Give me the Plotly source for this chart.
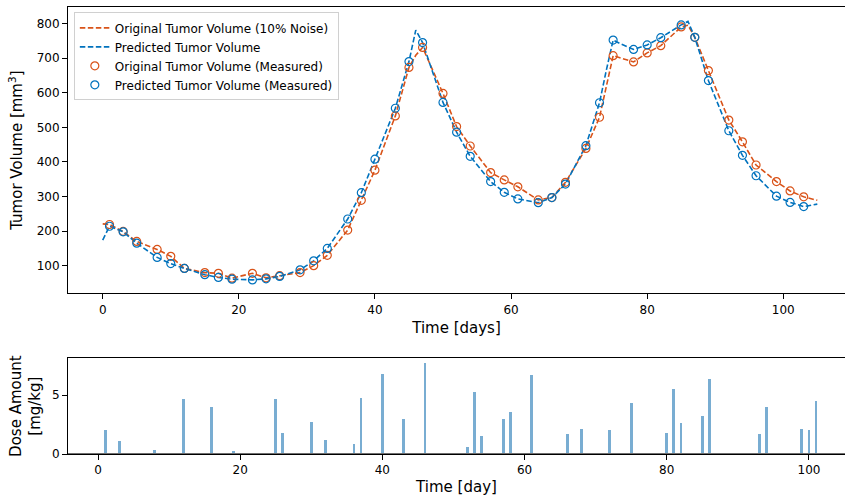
import plotly.graph_objects as go
from plotly.subplots import make_subplots

# ---------------- data ----------------
meas_days = [1, 3, 5, 8, 10, 12, 15, 17, 19, 22, 24, 26, 29, 31, 33, 36, 38, 40, 43, 45, 47,
             50, 52, 54, 57, 59, 61, 64, 66, 68, 71, 73, 75, 78, 80, 82, 85, 87, 89, 92, 94,
             96, 99, 101, 103]
orig_meas = [219, 199, 170, 147, 127, 92, 80, 78, 64, 78, 65, 71, 80, 100, 130, 203, 289, 376,
             533, 673, 731, 598, 502, 446, 369, 348, 328, 290, 297, 341, 439, 529, 707, 689, 715,
             736, 790, 760, 664, 521, 458, 391, 343, 316, 299]
pred_meas = [214, 198, 165, 124, 106, 92, 74, 66, 61, 59, 62, 69, 88, 114, 150, 235, 311, 408,
             555, 690, 745, 572, 486, 416, 343, 312, 293, 282, 297, 336, 447, 571, 752, 725, 738,
             759, 796, 760, 635, 490, 419, 360, 301, 283, 271]

orig_line_days = [0, 1, 3, 5, 8, 10, 12, 15, 17, 19, 22, 24, 26, 29, 31, 33, 36, 38, 40, 43, 45,
                  46, 47, 50, 52, 54, 57, 59, 61, 64, 66, 68, 71, 73, 75, 78, 80, 82, 85, 86, 87,
                  89, 92, 94, 96, 99, 101, 103, 105]
orig_line = [221, 219, 199, 170, 147, 127, 92, 80, 78, 64, 78, 65, 71, 80, 100, 130, 203, 289,
             376, 533, 673, 708, 731, 598, 502, 446, 369, 348, 328, 290, 297, 341, 439, 529, 707,
             689, 715, 736, 790, 795, 760, 664, 521, 458, 391, 343, 316, 299, 289]

pred_line_days = [0, 1, 3, 5, 8, 10, 12, 15, 17, 19, 22, 24, 26, 29, 31, 33, 36, 38, 40, 43, 45,
                  46, 47, 50, 52, 54, 57, 59, 61, 64, 66, 68, 71, 73, 74, 75, 76, 78, 80, 82, 85,
                  86, 87, 89, 92, 94, 96, 99, 101, 103, 105]
pred_line = [174, 214, 198, 165, 124, 106, 92, 74, 66, 61, 59, 62, 69, 88, 114, 150, 235, 311,
             408, 555, 690, 781, 745, 572, 486, 416, 343, 312, 293, 282, 297, 336, 447, 571, 665,
             752, 742, 725, 738, 759, 796, 806, 760, 635, 490, 419, 360, 301, 283, 271, 278]

dose_days = [1, 3, 8, 12, 16, 19, 25, 26, 30, 32, 36, 37, 40, 43, 46, 52, 53, 54, 57, 58, 61,
             66, 68, 72, 75, 80, 81, 82, 85, 86, 93, 94, 99, 100, 101]
dose_vals = [2.03, 1.10, 0.34, 4.66, 3.98, 0.25, 4.66, 1.78, 2.71, 1.19, 0.85, 4.75, 6.78, 2.97,
             7.71, 0.59, 5.25, 1.53, 2.97, 3.56, 6.69, 1.69, 2.12, 2.03, 4.32, 1.78, 5.51, 2.63,
             3.22, 6.36, 1.69, 3.98, 2.12, 2.03, 4.49]

x_ticks_top = [0, 20, 40, 60, 80, 100]
y_ticks_top = [100, 200, 300, 400, 500, 600, 700, 800]
y_ticks_bot = [0, 5]

ORANGE = "#D95319"
BLUE = "#0072BD"
FONT = "DejaVu Sans"

fig = make_subplots(rows=2, cols=1)

fig.add_trace(go.Scatter(x=orig_line_days, y=orig_line, mode="lines",
                         name="Original Tumor Volume (10% Noise)",
                         line=dict(color=ORANGE, width=1.6, dash="5.5px,2.5px")), row=1, col=1)
fig.add_trace(go.Scatter(x=pred_line_days, y=pred_line, mode="lines",
                         name="Predicted Tumor Volume",
                         line=dict(color=BLUE, width=1.6, dash="5.5px,2.5px")), row=1, col=1)
fig.add_trace(go.Scatter(x=meas_days, y=orig_meas, mode="markers",
                         name="Original Tumor Volume (Measured)",
                         marker=dict(symbol="circle-open", size=8, color=ORANGE,
                                     line=dict(width=1.2, color=ORANGE))), row=1, col=1)
fig.add_trace(go.Scatter(x=meas_days, y=pred_meas, mode="markers",
                         name="Predicted Tumor Volume (Measured)",
                         marker=dict(symbol="circle-open", size=8, color=BLUE,
                                     line=dict(width=1.2, color=BLUE))), row=1, col=1)
fig.add_trace(go.Bar(x=dose_days, y=dose_vals, width=0.4, showlegend=False,
                     marker=dict(color="rgba(31,119,180,0.6)", line=dict(width=0))),
              row=2, col=1)

axis_common = dict(showgrid=False, zeroline=False, showline=True, linecolor="black",
                   linewidth=1, ticks="outside", ticklen=5, tickcolor="black",
                   tickfont=dict(family=FONT, size=12, color="black"))

top_dom = [(454 - 293.3) / 447, 1.0]
bot_dom = [0.0, (454 - 358.3) / 447]

fig.update_xaxes(**axis_common, mirror=True, range=[-5.1, 109.07], tickvals=x_ticks_top,
                 domain=[0, 1], row=1, col=1,
                 title=dict(text="Time [days]", font=dict(family=FONT, size=15, color="black"),
                            standoff=6))
fig.update_yaxes(**axis_common, mirror=False, range=[20.2, 847.7], tickvals=y_ticks_top,
                 domain=top_dom, row=1, col=1,
                 title=dict(text="Tumor Volume [mm<sup>3</sup>]",
                            font=dict(family=FONT, size=15, color="black"), standoff=10))
fig.update_xaxes(**axis_common, mirror=True, range=[-4.22, 105.07], tickvals=x_ticks_top,
                 domain=[0, 1], row=2, col=1,
                 title=dict(text="Time [day]", font=dict(family=FONT, size=15, color="black"),
                            standoff=5))
fig.update_yaxes(**axis_common, mirror=False, range=[0, 8.11], tickvals=y_ticks_bot,
                 domain=bot_dom, row=2, col=1,
                 title=dict(text="Dose Amount<br>[mg/kg]",
                            font=dict(family=FONT, size=15, color="black"), standoff=7))

# grey baseline at zero under the dose bars
fig.add_shape(type="line", xref="x2 domain", yref="y2", x0=0, x1=1, y0=0, y1=0,
              line=dict(color="#6e6e6e", width=2), layer="above")

fig.update_layout(
    width=845, height=499,
    margin=dict(l=68, r=0, t=7, b=45, autoexpand=False),
    paper_bgcolor="white", plot_bgcolor="white",
    font=dict(family=FONT, color="black"),
    bargap=0,
    legend=dict(x=0.0075, y=0.988, xanchor="left", yanchor="top",
                bgcolor="white", bordercolor="#d0d0d0", borderwidth=1,
                font=dict(family=FONT, size=12, color="black"),
                tracegroupgap=0, itemwidth=30),
)

fig.write_html("out.html", config={"displayModeBar": False},
               post_script="document.body.style.margin='0';document.body.style.padding='0';")
